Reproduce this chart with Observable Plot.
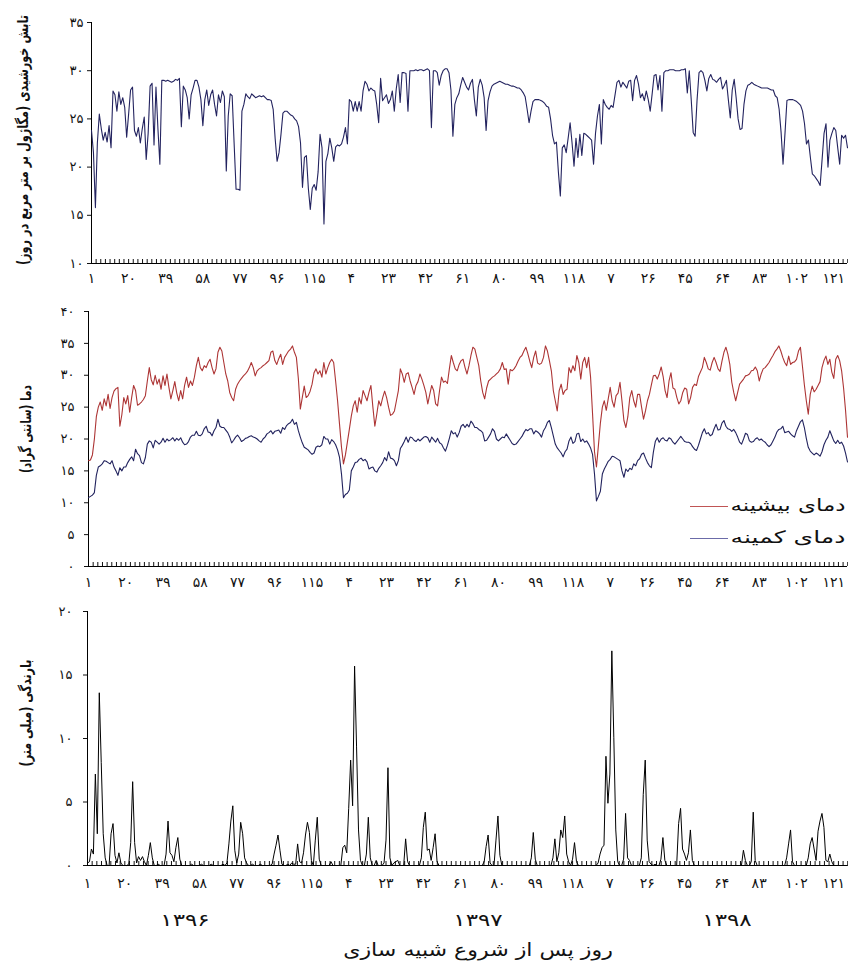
<!DOCTYPE html>
<html lang="fa"><head><meta charset="utf-8">
<script src="https://cdn.jsdelivr.net/npm/d3@7"></script>
<script src="https://cdn.jsdelivr.net/npm/@observablehq/plot@0.6"></script>
<style>
html,body{margin:0;padding:0;background:#fff;}
#chart{position:relative;width:848px;height:962px;overflow:hidden;font-family:"DejaVu Sans",sans-serif;color:#111;background:#fff;}
#chart svg{display:block;}
.abs{position:absolute;white-space:nowrap;line-height:1;}
.ln{position:absolute;height:0;border-top:1.6px solid;}
g[aria-label="y-axis tick label"] text{letter-spacing:2px;}
</style></head><body>
<div id="chart"></div>
<script>
// ---------- data ----------
const seasonLengths = [130, 130, 128];
const yearLabels = ["۱۳۹۶", "۱۳۹۷", "۱۳۹۸"];
const xTicks = [1,20,39,58,77,96,115,134,153,172,191,210,229,248,267,286,305,324,343,362,381];
const xTickLabels = ["۱","۲۰","۳۹","۵۸","۷۷","۹۶","۱۱۵","۴","۲۳","۴۲","۶۱","۸۰","۹۹","۱۱۸","۷","۲۶","۴۵","۶۴","۸۳","۱۰۲","۱۲۱"];
const solarTicks = [10,15,20,25,30,35];
const tempTicks = [0,5,10,15,20,25,30,35,40];
const rainTicks = [0,5,10,15,20];

const solar1396 = [
23.8,21.5,15.8,22.5,25.5,24.0,22.8,23.6,22.6,24.3,
22.0,27.9,27.5,25.8,27.8,26.5,27.2,26.2,23.1,25.5,
28.0,28.3,23.8,23.2,24.1,22.5,24.0,25.2,20.8,23.5,
28.4,28.7,22.3,28.3,24.0,20.3,29.0,29.0,28.9,29.0,
28.9,28.8,28.9,29.1,29.0,29.2,24.2,28.4,28.0,27.2,
25.0,27.5,28.2,29.0,29.0,28.3,27.0,24.3,27.0,28.0,
26.4,27.5,28.0,26.5,25.3,27.5,26.7,27.9,27.3,19.6,
25.3,27.6,27.4,22.5,17.7,17.7,17.6,25.8,26.5,27.6,
27.3,27.1,27.6,27.4,27.2,27.3,27.4,27.3,27.4,27.2,
27.0,27.0,26.9,26.0,23.0,20.6,21.5,23.4,25.6,25.8,
25.8,25.6,25.4,25.3,25.0,24.8,24.2,22.5,17.9,21.0,
21.2,17.8,15.6,17.8,18.2,17.6,19.5,23.4,22.0,14.1,
20.6,21.4,23.0,22.0,20.6,22.1,22.3,22.2,22.4,23.1];
const solar1397 = [
24.1,22.4,27.0,26.8,25.8,26.8,25.8,26.8,25.8,27.9,
28.9,28.6,27.9,28.2,28.0,27.9,26.5,24.6,29.2,26.9,
27.2,27.5,26.6,27.0,27.9,25.8,28.1,29.6,26.7,29.8,
29.8,29.7,25.8,30.0,30.0,30.0,30.1,30.0,30.1,30.1,
30.0,30.1,30.2,30.0,24.1,30.0,30.0,29.8,28.5,29.5,
30.0,30.2,30.2,29.8,28.0,23.2,26.5,27.2,27.6,28.5,
29.3,28.8,28.3,28.0,28.7,29.1,27.0,25.3,28.3,29.1,
28.5,27.2,23.8,26.9,27.8,28.4,28.6,28.7,28.8,28.9,
28.8,28.7,28.6,28.6,28.5,28.4,28.4,28.3,28.2,28.2,
28.0,27.7,27.3,26.0,24.6,25.8,26.8,27.0,27.0,27.0,
26.9,26.8,26.6,26.3,26.2,25.0,23.3,22.4,22.6,19.5,
17.0,22.0,22.3,21.5,23.0,24.6,22.5,20.1,23.0,21.0,
23.4,21.2,23.5,23.4,23.2,23.0,22.8,20.3,23.5,25.3];
const solar1398 = [
26.5,22.4,27.0,26.5,26.2,26.0,26.4,26.2,27.5,28.8,
29.0,28.3,28.8,28.5,28.2,28.9,29.0,26.9,29.0,29.5,
28.6,27.2,27.6,26.9,27.9,27.0,25.8,27.6,29.5,29.6,
28.0,29.5,25.8,29.8,30.0,30.0,30.1,30.1,30.1,30.0,
30.0,30.0,30.1,30.1,30.2,27.7,30.0,27.0,23.6,23.2,
27.0,29.8,30.0,29.8,29.0,27.9,29.2,29.6,29.1,29.0,
28.8,29.1,29.3,28.1,28.5,29.0,27.0,25.1,28.0,29.1,
27.2,25.0,23.9,24.0,26.5,27.9,28.5,28.6,28.8,28.6,
28.5,28.4,28.3,28.2,28.2,28.2,28.2,28.1,28.0,28.0,
27.4,27.2,26.0,23.6,20.3,23.5,26.9,27.0,27.0,27.0,
26.9,26.8,26.6,26.4,25.8,24.5,22.4,22.8,21.0,19.3,
19.1,18.8,18.5,18.1,20.8,23.5,24.5,20.0,22.8,23.5,
24.1,23.8,22.0,20.3,23.3,23.0,23.3,22.0];

const tmax1396 = [
16.6,16.7,17.5,20.0,23.5,25.0,25.8,24.5,26.3,25.2,
27.0,24.8,26.5,27.5,27.9,28.1,22.0,23.8,26.5,25.5,
26.8,24.2,26.5,28.4,27.6,25.3,25.5,25.8,26.2,26.8,
29.1,31.2,29.3,28.5,30.0,28.6,29.4,27.8,29.9,28.4,
30.2,28.1,26.3,27.6,29.0,27.2,26.0,27.6,26.3,28.4,
29.7,28.1,29.1,28.4,29.7,31.5,32.8,31.2,30.7,31.5,
31.2,32.0,32.5,31.2,30.2,31.0,33.6,34.4,33.8,32.0,
30.2,29.1,27.3,26.5,26.0,27.8,28.6,29.1,29.5,29.9,
30.2,30.6,31.2,32.0,31.2,29.9,30.7,31.0,31.2,31.5,
31.7,32.0,32.3,33.6,33.8,32.3,31.7,32.6,33.3,31.7,
32.8,33.3,33.8,34.1,34.6,33.6,32.8,29.5,24.7,26.5,
28.3,26.5,26.8,27.5,28.6,30.4,31.0,30.2,30.7,29.7,
32.0,30.2,31.2,32.0,32.5,32.0,29.1,26.0,22.3,18.7];
const tmax1397 = [
16.1,17.5,19.5,21.5,23.6,25.2,26.0,24.2,26.5,25.5,
27.6,26.8,26.0,27.3,28.4,25.0,22.0,23.9,26.0,25.2,
26.5,27.5,26.5,25.0,23.7,23.9,24.4,26.0,27.6,31.0,
30.2,28.9,30.2,30.4,29.1,28.1,27.0,28.4,29.0,30.2,
29.4,28.4,27.3,25.5,27.0,28.4,27.6,25.5,25.2,27.6,
29.7,28.9,29.1,28.7,31.0,33.1,32.0,31.0,30.7,31.7,
32.3,32.5,31.2,30.2,31.5,33.1,34.4,34.1,32.8,31.5,
29.1,27.3,26.3,28.0,29.1,29.4,29.7,29.9,30.2,30.5,
31.0,32.0,30.9,31.0,28.6,30.9,30.7,31.0,31.5,32.2,
32.8,33.1,33.8,34.4,33.4,32.2,31.2,32.8,33.8,31.9,
31.7,31.9,32.8,34.6,33.8,32.3,30.7,27.6,26.0,24.4,
27.6,28.6,27.0,27.6,27.8,31.2,30.4,31.5,30.7,33.1,
32.0,29.4,32.0,32.8,31.2,32.8,29.7,24.0,18.0,15.6];
const tmax1398 = [
19.0,22.5,25.0,26.0,24.5,26.3,28.1,26.0,25.0,26.8,
27.2,28.9,26.0,22.9,21.8,23.5,26.5,27.6,26.0,25.0,
27.0,27.0,25.0,23.1,24.4,26.0,27.0,28.5,29.9,30.0,
29.4,30.2,31.3,29.8,27.6,26.5,29.1,30.4,28.0,27.8,
26.5,25.5,26.0,27.3,28.0,27.8,25.5,26.5,28.1,28.6,
28.4,29.8,30.5,31.2,32.8,32.0,31.0,30.8,32.0,32.8,
32.0,31.0,30.6,32.2,33.6,34.4,33.3,31.7,28.9,27.3,
26.0,27.3,28.6,29.0,29.4,29.9,30.0,30.2,30.7,30.8,
31.3,30.7,29.1,30.2,31.0,31.2,31.6,32.0,32.6,33.1,
33.7,34.1,34.6,33.8,32.8,32.0,31.5,33.0,31.7,32.0,
32.1,32.5,33.8,34.4,31.5,28.5,26.0,23.9,27.0,28.3,
27.4,27.8,28.4,29.0,31.2,32.3,33.0,31.7,32.5,30.5,
29.5,32.5,33.1,32.3,30.7,28.0,24.5,20.3];

const tmin1396 = [
10.8,11.0,11.2,11.6,14.3,15.6,15.8,16.1,16.6,16.5,
16.3,16.1,16.6,15.6,15.0,14.3,15.5,15.0,15.6,15.6,
16.3,16.8,17.2,16.6,18.4,17.7,17.4,16.3,16.1,17.1,
19.2,19.7,19.5,18.6,19.8,19.5,19.2,19.5,20.1,19.5,
20.0,19.7,19.9,20.2,19.7,20.1,19.8,20.2,19.5,19.1,
19.2,19.6,20.3,20.6,20.6,21.2,20.6,20.5,20.8,21.6,
22.0,21.1,21.0,20.5,21.3,21.8,23.1,22.0,21.8,21.8,
21.4,21.0,20.3,19.4,19.8,20.3,20.6,20.2,19.6,19.8,
20.1,20.2,20.4,20.5,20.3,20.2,20.0,19.7,19.5,20.0,
20.3,20.8,21.0,21.3,20.8,21.2,21.3,21.4,20.9,21.8,
21.5,22.1,22.4,22.6,23.1,22.3,22.6,21.3,20.3,19.4,
18.7,18.5,18.3,17.9,17.6,17.8,18.7,18.9,18.8,19.1,
20.4,20.0,20.0,19.2,19.9,19.6,19.1,18.3,17.1,14.5];
const tmin1397 = [
10.8,11.3,11.5,12.0,15.0,15.6,16.3,16.4,16.8,17.0,
16.6,16.8,16.4,15.3,15.5,15.6,15.0,14.8,15.4,15.8,
16.3,17.1,16.6,18.0,17.0,16.9,16.6,15.8,16.6,18.5,
19.0,19.6,20.3,19.5,20.3,20.2,19.8,19.6,20.0,19.7,
20.0,20.3,20.4,20.2,19.5,20.3,19.9,19.5,20.1,19.4,
19.2,18.6,18.1,19.0,20.1,21.3,20.8,21.0,20.3,21.0,
22.0,22.3,21.8,22.3,21.9,22.8,22.4,21.8,21.8,21.5,
21.3,21.0,19.7,19.8,20.3,20.8,21.6,21.2,20.0,19.7,
20.0,20.3,20.2,20.8,20.3,19.8,19.3,19.1,19.2,19.6,
20.0,20.4,21.0,21.5,21.3,21.6,21.6,20.8,21.3,21.1,
20.8,20.3,21.3,21.8,22.6,22.9,21.8,20.5,19.2,18.6,
18.2,17.8,17.2,18.0,18.4,19.7,20.3,19.3,19.6,20.8,
20.9,19.6,20.0,19.5,19.7,19.2,18.6,17.6,14.5,10.3];
const tmin1398 = [
11.0,11.8,14.5,15.3,15.9,16.5,16.8,17.3,17.2,17.0,
16.8,16.6,15.0,14.0,15.3,14.9,15.4,15.2,16.1,15.8,
16.6,16.9,17.6,17.8,17.0,16.3,15.8,15.5,17.9,19.6,
20.2,19.5,20.0,20.2,19.8,19.7,20.2,20.0,19.5,19.2,
19.6,20.0,20.4,20.0,19.6,19.5,19.5,19.3,18.8,18.4,
18.2,19.0,20.0,21.0,21.6,20.8,21.0,20.5,20.7,21.6,
22.3,21.4,21.5,22.5,22.9,22.0,21.6,21.5,21.2,21.5,
21.0,20.3,19.5,19.2,20.0,20.9,20.7,19.7,19.5,19.6,
20.0,20.2,19.8,20.0,19.7,19.5,19.1,18.8,19.1,19.7,
20.3,21.1,21.5,21.6,22.0,21.0,21.1,21.2,20.8,20.5,
20.3,21.3,22.0,22.7,23.0,21.8,20.1,18.7,18.1,17.8,
17.5,17.8,17.6,17.3,18.0,19.1,19.8,20.3,21.3,20.5,
19.7,19.3,19.8,19.3,19.5,18.9,17.8,16.4];

const rain1396 = [
0.2,0.3,1.3,0.9,7.2,2.5,13.6,8.1,2.5,0.6,
0,0,2.5,3.3,0.8,0.2,1.0,0.2,0,0,
0,0.1,1.8,6.6,1.8,0.2,0.7,0.4,0.7,0.3,
0,0.8,1.8,0.6,0,0,0.1,0,0,0,
0.9,3.5,1.0,0.8,0.3,1.4,2.2,0.5,0,0,
0,0,0,0.1,0,0,0,0,0.1,0,
0,0,0,0.1,0,0,0,0,0,0.1,
0,0.2,1.7,3.5,4.7,1.2,0.2,0.9,3.4,2.5,
0.6,0.2,0,0,0.1,0,0,0,0.1,0,
0,0,0,0,0.1,0.9,1.6,2.4,1.2,0.1,
0,0,0.1,0,0.2,0.1,0.1,1.7,0.3,0.2,
1.0,2.4,3.4,2.6,0.4,0,2.0,3.8,0.5,0,
0,0,0,0,0.3,0,0,0,0,0];
const rain1397 = [
1.4,1.6,1.0,4.5,8.3,4.7,15.7,9.4,2.8,0.4,
0,0,0.9,3.8,0.6,0,0,0.4,0,0,
0,0.2,2.0,7.7,0.6,0,0.2,0.3,0.4,0,
0,0,2.1,0.3,0,0,0,0,0,0,
0.6,3.0,4.2,1.2,1.3,0.4,1.4,2.5,0.3,0,
0,0,0,0,0,0,0,0,0,0,
0,0,0,0,0,0,0,0,0,0,
0,0,0.3,1.5,2.4,0.2,0,0,2.0,3.9,
0.8,0,0,0,0,0,0,0,0,0,
0,0,0,0,0,0,0.6,2.6,0.5,0,
0,0,0,0,0,0,0,0.6,2.1,0.3,
1.0,2.8,2.2,3.9,0.9,0.3,0,0.5,1.8,0.3,
0,0,0,0,0,0,0,0,0,0];
const rain1398 = [
0.2,0.9,1.4,1.6,8.6,4.9,7.2,16.9,10.1,2.8,
0.3,0,0,0.5,4.1,0.6,0.4,0,0,0,
0,0,0.6,5.6,8.3,2.0,0.3,0.1,0,0.1,
0,0,0.5,2.2,0.4,0,0,0,0,0,
0,3.3,4.5,1.3,0.9,0.4,1.0,2.8,0.4,0,
0,0,0,0,0,0,0,0,0,0,
0,0,0,0,0,0,0,0,0,0,
0,0,0,0,1.2,0.4,0,0,0.3,4.2,
0.4,0,0,0,0,0,0,0,0,0,
0,0,0,0,0,0,0.6,1.7,2.8,0.3,
0,0,0,0,0,0,0,0.6,1.7,2.2,
1.3,0.4,2.7,3.5,4.1,3.0,0.4,0.3,0.9,0.3,
0,0,0,0,0,0,0,0];

// ---------- helpers ----------
const W = 848;
const nDays = seasonLengths.reduce((a, b) => a + b, 0);
const solar = [...solar1396, ...solar1397, ...solar1398];
const tmax = [...tmax1396, ...tmax1397, ...tmax1398];
const tmin = [...tmin1396, ...tmin1397, ...tmin1398];
const rain = [...rain1396, ...rain1397, ...rain1398];
const fa = n => String(n).replace(/\d/g, d => "۰۱۲۳۴۵۶۷۸۹"[+d]);
const labelOf = d => xTickLabels[xTicks.indexOf(d)] ?? "";
const minorTicks = d3.range(1, nDays + 1, 19 / 8);
const rows = vals => vals.map((v, i) => ({day: i + 1, v}));

function panel(o) {
  return Plot.plot({
    width: W, height: o.height,
    marginTop: o.mt, marginBottom: o.mb, marginLeft: o.ml, marginRight: 1,
    style: {fontFamily: '"DejaVu Sans", sans-serif', background: "transparent", color: "#111", overflow: "visible"},
    x: {domain: [1, nDays]},
    y: {domain: o.yDomain},
    marks: [
      Plot.axisY(o.yTicks, {tickSize: 4, tickPadding: o.ypad, tickFormat: fa, fontSize: 13, label: null}),
      Plot.axisX(minorTicks, {tickSize: 4, dy: -4, fill: "none", label: null}),
      Plot.axisX(xTicks, {tickSize: 0, tickPadding: o.xpad, tickFormat: labelOf, fontSize: 14, label: null}),
      Plot.ruleX([1], {stroke: "#000"}),
      Plot.ruleY([o.yDomain[0]], {stroke: "#000"}),
      ...o.series.map(s => Plot.line(rows(s.values), {x: "day", y: "v", stroke: s.color, strokeWidth: s.width}))
    ]
  });
}

const root = document.getElementById("chart");
root.append(panel({
  height: 290, mt: 22, mb: 27, ml: 91, yDomain: [10, 35], yTicks: solarTicks, xpad: 10, ypad: 4,
  series: [{values: solar, color: "#23235f", width: 1.1}]
}));
root.append(panel({
  height: 310, mt: 21, mb: 34, ml: 88, yDomain: [0, 40], yTicks: tempTicks, xpad: 11, ypad: 10,
  series: [{values: tmax, color: "#ad3535", width: 1.1}, {values: tmin, color: "#22235e", width: 1.1}]
}));
root.append(panel({
  height: 362, mt: 11, mb: 97, ml: 87, yDomain: [0, 20], yTicks: rainTicks, xpad: 13, ypad: 11,
  series: [{values: rain, color: "#000", width: 1}]
}));

// text helper: an HTML label centred at (cx, cy), stretched horizontally to span `len` px
function label(text, cx, cy, len, {size = 16, weight = "normal", rotate = 0} = {}) {
  const d = document.createElement("div");
  d.className = "abs";
  d.dir = "rtl";
  d.style.fontSize = size + "px";
  d.style.fontWeight = weight;
  d.textContent = text;
  root.append(d);
  const k = len / d.offsetWidth;
  d.style.left = cx + "px";
  d.style.top = cy + "px";
  d.style.transform = `translate(-50%,-50%) rotate(${rotate}deg) scaleX(${k})`;
  return d;
}

// y-axis titles
label("تابش خورشیدی (مگاژول بر متر مربع در روز)", 22.5, 140, 250, {size: 15, weight: "bold", rotate: -90});
label("دما (سانتی گراد)", 25.5, 429, 88, {size: 15, weight: "bold", rotate: -90});
label("بارندگی (میلی متر)", 25.5, 713, 107, {size: 15, weight: "bold", rotate: -90});

// legend (inside the temperature panel)
const legendItems = [
  {label: "دمای بیشینه", color: "#c05555", cy: 505},
  {label: "دمای کمینه", color: "#6b6ba8", cy: 537}
];
for (const it of legendItems) {
  label(it.label, 787.5, it.cy, 115, {size: 17});
  const ln = document.createElement("div");
  ln.className = "ln";
  ln.style.left = "690px";
  ln.style.width = "38px";
  ln.style.top = (it.cy + 1) + "px";
  ln.style.borderColor = it.color;
  root.append(ln);
}

// season (year) labels and x title
const yearCenters = [185, 478, 727];
yearLabels.forEach((y, i) => label(y, yearCenters[i], 920, 50, {size: 17}));
label("روز پس از شروع شبیه سازی", 478, 950, 270, {size: 18});
</script>
</body></html>
